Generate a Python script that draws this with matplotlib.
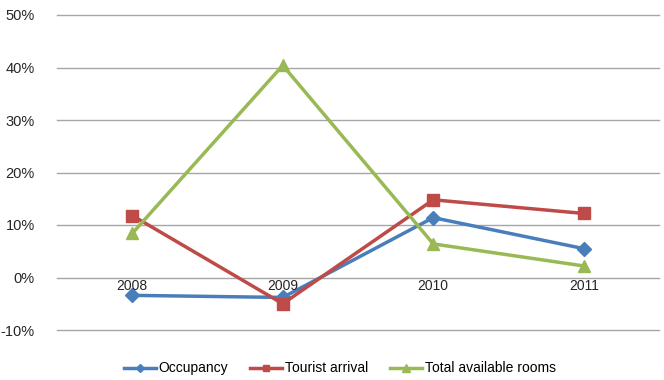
import matplotlib
matplotlib.use('Agg')
import matplotlib.pyplot as plt
from matplotlib.ticker import PercentFormatter

plt.rcParams['font.family'] = ['Liberation Sans Narrow', 'Liberation Sans', 'DejaVu Sans']
plt.rcParams['axes.unicode_minus'] = False

years = ['2008', '2009', '2010', '2011']
occupancy = [-3.4, -3.8, 11.4, 5.5]
tourist_arrival = [11.8, -5.0, 14.8, 12.2]
total_rooms = [8.4, 40.4, 6.4, 2.2]

fig = plt.figure(figsize=(6.64, 3.80), dpi=100)
ax = fig.add_axes([57/664, 1 - 330/380, (659 - 57)/664, (330 - 15)/380])

x = list(range(len(years)))
ax.plot(x, occupancy, color='#4a7ebb', lw=2.5, marker='D', ms=7, label='Occupancy')
ax.plot(x, tourist_arrival, color='#be4b48', lw=2.5, marker='s', ms=8, label='Tourist arrival')
ax.plot(x, total_rooms, color='#98b954', lw=2.5, marker='^', ms=9, label='Total available rooms')

ax.set_xlim(-0.5, 3.5)
ax.set_ylim(-10, 50)
ax.set_yticks(range(-10, 51, 10))
ax.yaxis.set_major_formatter(PercentFormatter(decimals=0))
ax.grid(axis='y', color='#a6a6a6', lw=1)
for gl in ax.get_ygridlines():
    gl.set_clip_on(False)
ax.set_axisbelow(True)
for s in ax.spines.values():
    s.set_visible(False)
ax.tick_params(length=0, labelsize=10.5, colors='#262626')
ax.tick_params(axis='y', pad=16)

# year labels sit on the zero line
ax.set_xticks([])
for i, yr in enumerate(years):
    ax.text(i, -1.6, yr, ha='center', va='center', fontsize=10, color='#262626', zorder=5)

ax.legend(loc='upper center', bbox_to_anchor=(0.47, -0.06), ncol=3, frameon=False,
          fontsize=10, handlelength=2.3, markerscale=0.6, columnspacing=1.6, handletextpad=0.2)

fig.savefig('out.png', dpi=100)
